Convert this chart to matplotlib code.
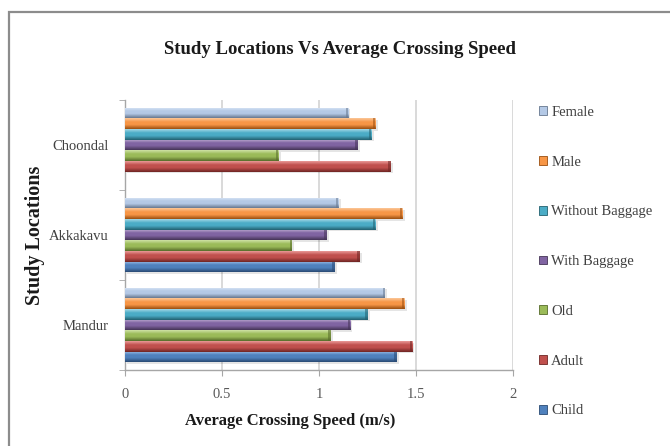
import numpy as np
import matplotlib
matplotlib.use("Agg")
import matplotlib.pyplot as plt
from matplotlib.patches import Patch, Rectangle
from matplotlib.colors import LinearSegmentedColormap

# Study locations (bottom to top) and average crossing speed (m/s) per group
locations = ["Mandur", "Akkakavu", "Choondal"]
series = ["Child", "Adult", "Old", "With Baggage", "Without Baggage", "Male", "Female"]
child = [1.40, 1.08, np.nan]
adult = [1.48, 1.21, 1.37]
old = [1.06, 0.86, 0.79]
with_baggage = [1.16, 1.04, 1.20]
without_baggage = [1.25, 1.29, 1.27]
male = [1.44, 1.43, 1.29]
female = [1.34, 1.10, 1.15]
values = [child, adult, old, with_baggage, without_baggage, male, female]

x_ticks = [0, 0.5, 1, 1.5, 2]
x_tick_labels = ["0", "0.5", "1", "1.5", "2"]

# (top highlight, body, bottom shade) for the bevelled bars
palette = [
    ("#9DBEE6", "#4F81BD", "#2A4A73"),
    ("#EA9A98", "#C0504D", "#6E2523"),
    ("#CFE2A6", "#9BBB59", "#566B2A"),
    ("#BFAED3", "#8064A2", "#443456"),
    ("#A3D8E6", "#4BACC6", "#22606F"),
    ("#FBC89A", "#F79646", "#9A4E10"),
    ("#DCE8F7", "#B4C9E6", "#66778E"),
]

serif = ["Liberation Serif", "DejaVu Serif"]
plt.rcParams["font.family"] = serif

fig = plt.figure(figsize=(6.7, 4.46), dpi=100)
ax = fig.add_axes([125 / 670, 76 / 446, 388 / 670, 270 / 446])

bar_h = 0.119
pos = np.arange(len(locations))
n = len(series)

ax.set_xlim(0, 2)
ax.set_ylim(-0.5, len(locations) - 0.5)

for i, (name, vals) in enumerate(zip(series, values)):
    light, body, dark = palette[i]
    offs = pos + (i - (n - 1) / 2) * bar_h
    bars = ax.barh(offs, vals, height=bar_h, color=body, edgecolor="none", zorder=3)
    cmap = LinearSegmentedColormap.from_list(
        name, [(0.0, light), (0.35, body), (0.6, body), (1.0, dark)])
    grad = np.linspace(0, 1, 64).reshape(-1, 1)
    for p in bars.patches:
        w = p.get_width()
        if not np.isfinite(w) or w <= 0:
            continue
        y0 = p.get_y()
        h = p.get_height()
        # soft drop shadow
        ax.add_patch(Rectangle((0.012, y0 - 0.018), w, h, facecolor="#000000",
                               alpha=0.10, edgecolor="none", zorder=2))
        im = ax.imshow(grad, cmap=cmap, aspect="auto", interpolation="bilinear",
                       extent=(0, w, y0, y0 + h), origin="upper", zorder=4)
        im.set_clip_path(p)
        # darker rounded end cap
        ax.add_patch(Rectangle((w - 0.012, y0), 0.012, h, facecolor=dark,
                               alpha=0.55, edgecolor="none", zorder=5))

ax.set_xlim(0, 2)
ax.set_ylim(-0.5, len(locations) - 0.5)

# gridlines and axes styling
for xv in x_ticks[1:]:
    ax.axvline(xv, color="#D9D9D9", lw=1.4, zorder=1)
for s in ["top", "right"]:
    ax.spines[s].set_visible(False)
for s in ["left", "bottom"]:
    ax.spines[s].set_color("#A6A6A6")
    ax.spines[s].set_linewidth(1.0)

ax.set_xticks(x_ticks)
ax.set_xticklabels(x_tick_labels)
ax.tick_params(axis="x", length=4, color="#A6A6A6", pad=9,
               labelsize=10.5, labelcolor="#595959")
ax.set_yticks(pos)
ax.set_yticklabels(locations)
ax.tick_params(axis="y", which="major", length=0, pad=12,
               labelsize=10.5, labelcolor="#404040")
ax.set_yticks(np.arange(-0.5, len(locations)), minor=True)
ax.tick_params(axis="y", which="minor", length=4, color="#A6A6A6")

fig.text(0.507, 1 - 50 / 446, "Study Locations Vs Average Crossing Speed",
         ha="center", va="center", fontsize=13.5, fontweight="bold", color="#1a1a1a")
fig.text(290 / 670, 1 - 421 / 446, "Average Crossing Speed (m/s)",
         ha="center", va="center", fontsize=12, fontweight="bold", color="#1a1a1a")
fig.text(35 / 670, 1 - 235 / 446, "Study Locations", rotation=90,
         ha="center", va="center", fontsize=14.5, fontweight="bold", color="#1a1a1a")

handles = [Patch(facecolor=palette[i][1], edgecolor=palette[i][2], linewidth=0.6)
           for i in range(n)][::-1]
leg = fig.legend(handles, series[::-1], loc="upper left",
                 bbox_to_anchor=(533 / 670, 1 - 100 / 446), frameon=False,
                 fontsize=10.5, handlelength=0.55, handleheight=0.55,
                 handletextpad=0.3, labelspacing=2.52, borderaxespad=0)
for t in leg.get_texts():
    t.set_color("#404040")

# chart area border
fig.add_artist(Rectangle((9 / 670, -0.01), 1.0, 1 - 12 / 446 + 0.01,
                         transform=fig.transFigure, fill=False,
                         edgecolor="#8C8C8C", linewidth=1.6))

fig.savefig("out.png", dpi=100)
